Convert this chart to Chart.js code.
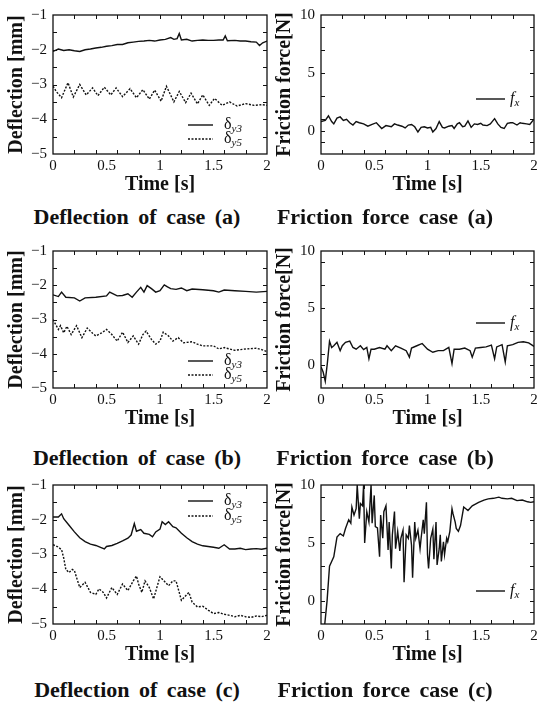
<!DOCTYPE html>
<html><head><meta charset="utf-8">
<script src="https://cdn.jsdelivr.net/npm/chart.js@4.4.1/dist/chart.umd.min.js"></script>
<style>
html,body{margin:0;padding:0;background:#fff}
body{width:538px;height:706px;position:relative;overflow:hidden}
canvas{position:absolute}
.cap{position:absolute;font:bold 22px "Liberation Serif",serif;line-height:22px;color:#111;white-space:nowrap;transform:translateX(-50%);word-spacing:4px}
</style></head><body>
<script>
// ---------- tick labels / tick marks ----------
const xTickLabels = [0, 0.5, 1, 1.5, 2];
const xTickMarks = [0.2, 0.4, 0.6, 0.8, 1.0, 1.2, 1.4, 1.6, 1.8];
const deflTickLabels = [-1, -2, -3, -4, -5];
const deflTickMarks = [-1.5, -2, -2.5, -3, -3.5, -4, -4.5];
const fricTickLabels = [0, 5, 10];
const fricTickMarks = [-1, 0, 1, 3, 5, 7, 9];

// ---------- case (a) ----------
const timeA3 = [0,0.05,0.1,0.15,0.2,0.25,0.3,0.35,0.4,0.45,0.5,0.55,0.6,0.65,0.7,0.75,0.8,0.85,0.9,0.95,1.0,1.05,1.1,1.13,1.16,1.18,1.2,1.25,1.3,1.35,1.4,1.45,1.5,1.55,1.59,1.61,1.63,1.7,1.75,1.8,1.85,1.9,1.93,1.96,2.0];
const deflA3 = [-2.05,-1.98,-2.02,-2.0,-2.03,-2.05,-2.0,-1.98,-1.95,-1.93,-1.9,-1.88,-1.85,-1.85,-1.8,-1.78,-1.76,-1.75,-1.73,-1.75,-1.72,-1.7,-1.65,-1.7,-1.68,-1.53,-1.72,-1.7,-1.75,-1.73,-1.72,-1.73,-1.73,-1.72,-1.72,-1.6,-1.74,-1.73,-1.75,-1.75,-1.77,-1.78,-1.88,-1.8,-1.75];
const timeA5 = [0,0.03,0.08,0.14,0.19,0.25,0.31,0.37,0.42,0.48,0.54,0.59,0.65,0.72,0.78,0.84,0.9,0.95,1.01,1.06,1.13,1.18,1.24,1.29,1.35,1.4,1.46,1.51,1.58,1.65,1.72,1.8,1.88,1.95,2.0];
const deflA5 = [-3.05,-3.2,-3.38,-2.95,-3.36,-3.0,-3.3,-3.1,-3.32,-3.08,-3.3,-3.1,-3.35,-3.12,-3.38,-3.15,-3.42,-3.16,-3.48,-3.05,-3.5,-3.2,-3.52,-3.25,-3.56,-3.3,-3.6,-3.4,-3.6,-3.5,-3.62,-3.55,-3.6,-3.58,-3.6];
const timeAf = [0,0.04,0.07,0.1,0.12,0.15,0.18,0.21,0.24,0.27,0.3,0.33,0.36,0.4,0.44,0.48,0.52,0.55,0.57,0.61,0.66,0.69,0.72,0.76,0.79,0.82,0.85,0.88,0.91,0.94,0.97,1.0,1.03,1.05,1.08,1.11,1.14,1.16,1.2,1.23,1.25,1.28,1.3,1.33,1.35,1.38,1.41,1.44,1.47,1.5,1.52,1.56,1.59,1.63,1.66,1.69,1.72,1.75,1.78,1.8,1.84,1.87,1.89,1.93,1.96,2.0];
const fricA = [0.8,0.9,1.3,0.8,0.6,1.1,1.2,0.9,1.0,0.7,0.5,0.8,0.7,0.6,0.4,0.55,0.7,0.4,0.2,0.45,0.35,0.6,0.5,0.4,0.25,0.5,0.55,0.35,-0.1,0.3,0.35,0.25,0.3,-0.1,0.2,0.8,0.3,0.25,0.4,0.45,0.2,0.6,0.7,0.35,0.4,0.85,0.3,0.6,0.55,0.65,0.5,0.45,0.6,1.05,0.6,0.3,0.2,0.65,0.7,0.7,0.5,0.7,0.65,0.6,0.55,1.0];

// ---------- case (b) ----------
const timeB3 = [0,0.05,0.08,0.12,0.2,0.25,0.3,0.4,0.5,0.53,0.6,0.65,0.7,0.74,0.78,0.82,0.85,0.88,0.92,0.96,1.0,1.04,1.07,1.1,1.15,1.2,1.25,1.3,1.4,1.5,1.55,1.6,1.7,1.8,1.9,2.0];
const deflB3 = [-2.28,-2.33,-2.2,-2.35,-2.37,-2.46,-2.37,-2.35,-2.31,-2.2,-2.31,-2.3,-2.25,-2.35,-2.2,-2.06,-2.2,-2.01,-2.1,-2.2,-2.16,-1.99,-2.05,-2.1,-2.12,-2.08,-2.16,-2.11,-2.13,-2.16,-2.2,-2.14,-2.16,-2.18,-2.2,-2.18];
const timeB5 = [0,0.05,0.07,0.1,0.13,0.17,0.22,0.27,0.32,0.37,0.4,0.45,0.5,0.55,0.6,0.65,0.7,0.75,0.8,0.84,0.87,0.92,0.96,1.0,1.03,1.08,1.12,1.17,1.22,1.3,1.35,1.4,1.5,1.55,1.6,1.7,1.8,1.9,1.95,2.0];
const deflB5 = [-3.0,-3.29,-3.18,-3.39,-3.2,-3.44,-3.18,-3.53,-3.25,-3.4,-3.48,-3.4,-3.29,-3.44,-3.63,-3.37,-3.67,-3.48,-3.72,-3.44,-3.34,-3.58,-3.72,-3.63,-3.37,-3.48,-3.63,-3.53,-3.68,-3.65,-3.72,-3.77,-3.77,-3.86,-3.82,-3.9,-3.86,-3.84,-3.88,-3.94];
const timeBf = [0,0.02,0.04,0.06,0.08,0.1,0.12,0.15,0.18,0.2,0.23,0.27,0.3,0.33,0.37,0.4,0.43,0.45,0.47,0.5,0.55,0.6,0.62,0.66,0.7,0.75,0.8,0.83,0.85,0.9,0.95,1.0,1.05,1.1,1.15,1.2,1.23,1.25,1.3,1.35,1.4,1.42,1.45,1.5,1.55,1.6,1.63,1.65,1.7,1.73,1.75,1.8,1.85,1.9,1.95,2.0];
const fricB = [-0.15,-0.6,-1.4,0.2,2.1,1.55,1.7,2.0,1.27,1.7,2.0,2.1,1.55,1.4,1.7,1.36,1.55,0.56,1.4,1.4,1.55,1.4,1.7,1.27,1.7,1.5,1.27,0.7,1.5,1.7,1.9,1.4,1.13,1.27,1.27,1.55,0.13,1.4,1.4,1.5,1.27,0.7,1.5,1.55,1.6,1.75,0.56,1.6,1.8,0.28,1.7,1.8,2.0,2.05,1.95,1.64];

// ---------- case (c) ----------
const timeC3 = [0,0.05,0.08,0.1,0.15,0.2,0.25,0.3,0.35,0.4,0.45,0.48,0.5,0.55,0.6,0.65,0.7,0.73,0.76,0.78,0.82,0.85,0.9,0.93,0.96,1.0,1.02,1.05,1.08,1.12,1.15,1.2,1.25,1.3,1.35,1.4,1.45,1.5,1.55,1.6,1.65,1.7,1.75,1.8,1.85,1.9,1.95,2.0];
const deflC3 = [-1.92,-1.92,-1.83,-1.97,-2.16,-2.35,-2.52,-2.63,-2.7,-2.74,-2.8,-2.84,-2.77,-2.74,-2.68,-2.61,-2.53,-2.44,-2.11,-2.33,-2.28,-2.39,-2.42,-2.49,-2.35,-2.27,-2.06,-2.14,-2.06,-2.2,-2.23,-2.39,-2.52,-2.63,-2.7,-2.75,-2.77,-2.79,-2.82,-2.72,-2.84,-2.84,-2.82,-2.86,-2.84,-2.83,-2.85,-2.82];
const timeC5 = [0,0.04,0.08,0.1,0.12,0.15,0.18,0.2,0.22,0.25,0.3,0.35,0.4,0.43,0.47,0.5,0.55,0.6,0.65,0.7,0.75,0.78,0.8,0.83,0.86,0.9,0.94,0.98,1.0,1.05,1.08,1.12,1.15,1.2,1.23,1.27,1.3,1.35,1.4,1.45,1.5,1.55,1.6,1.65,1.7,1.75,1.8,1.85,1.9,1.95,2.0];
const deflC5 = [-2.72,-2.77,-2.86,-3.1,-3.43,-3.52,-3.43,-3.46,-3.66,-3.95,-3.8,-4.09,-4.15,-3.99,-4.09,-4.25,-3.95,-4.15,-3.85,-4.04,-3.76,-3.62,-3.85,-4.09,-3.76,-3.95,-4.28,-3.85,-3.64,-3.8,-3.9,-3.76,-3.76,-4.32,-4.22,-4.09,-4.37,-4.51,-4.49,-4.6,-4.7,-4.67,-4.72,-4.75,-4.79,-4.75,-4.79,-4.81,-4.77,-4.79,-4.75];
const timeCf = [0.03,0.057,0.08,0.1,0.12,0.15,0.18,0.21,0.23,0.26,0.28,0.29,0.31,0.33,0.34,0.36,0.37,0.39,0.4,0.41,0.43,0.45,0.47,0.48,0.5,0.51,0.53,0.55,0.56,0.58,0.59,0.61,0.63,0.64,0.66,0.67,0.69,0.7,0.72,0.74,0.75,0.77,0.78,0.8,0.82,0.83,0.85,0.86,0.88,0.89,0.91,0.93,0.94,0.96,0.97,0.99,1.0,1.01,1.03,1.05,1.06,1.08,1.09,1.11,1.12,1.13,1.15,1.16,1.18,1.19,1.21,1.23,1.24,1.26,1.27,1.29,1.31,1.34,1.36,1.38,1.42,1.45,1.48,1.53,1.57,1.62,1.67,1.7,1.75,1.79,1.84,1.89,1.94,1.97,2.0];
const fricC = [-2.5,0,3.0,3.4,3.8,5.5,5.8,5.6,6.25,7.0,6.7,8.1,7.4,7.95,10,7.1,8.4,8.2,10,5.0,7.7,6.8,10,6.7,9.1,6.4,6.3,3.8,7.4,5.4,7.7,8.2,4.4,6.8,2.8,5.7,7.7,4.5,6.0,4.3,5.4,6.1,1.6,5.7,5.4,6.5,4.8,2.0,6.8,5.4,6.1,4.5,5.4,7.0,5.8,8.5,4.0,2.8,5.4,6.2,3.6,6.8,3.1,4.5,5.7,3.4,5.1,4.0,5.4,5.1,6.0,7.95,7.5,6.8,6.25,6.0,6.5,8.1,7.95,7.8,8.2,8.35,8.5,8.7,8.8,8.85,8.95,8.85,8.8,8.85,8.65,8.7,8.55,8.5,8.55];

const captionsLeft = ['Deflection of case (a)', 'Deflection of case (b)', 'Deflection of case (c)'];
const captionsRight = ['Friction force case (a)', 'Friction force case (b)', 'Friction force case (c)'];

// ---------- drawing ----------
const INK = '#111';
const SERIF = '"Liberation Serif", "Times New Roman", serif';
const pts = (t, v) => t.map((x, i) => ({x, y: v[i]}));
const fmt = v => (v < 0 ? '\u2212' + Math.abs(v) : String(v));

const framePlugin = {
  id: 'frame',
  afterDatasetsDraw(chart, args, opts) {
    const {ctx, chartArea: a, scales: {x, y}} = chart;
    ctx.save();
    ctx.strokeStyle = INK;
    ctx.lineWidth = 1.3;
    ctx.strokeRect(a.left, a.top, a.right - a.left, a.bottom - a.top);
    ctx.lineWidth = 1;
    ctx.beginPath();
    const L = 4;
    opts.xMarks.forEach(v => {
      const p = Math.round(x.getPixelForValue(v)) + 0.5;
      ctx.moveTo(p, a.bottom); ctx.lineTo(p, a.bottom - L);
      ctx.moveTo(p, a.top); ctx.lineTo(p, a.top + L);
    });
    opts.yMarks.forEach(v => {
      const p = Math.round(y.getPixelForValue(v)) + 0.5;
      ctx.moveTo(a.left, p); ctx.lineTo(a.left + L, p);
      ctx.moveTo(a.right, p); ctx.lineTo(a.right - L, p);
    });
    ctx.stroke();
    ctx.restore();
  }
};

const keyPlugin = {
  id: 'key',
  afterDatasetsDraw(chart, args, opts) {
    const {ctx, chartArea: a} = chart;
    ctx.save();
    chart.data.datasets.forEach((ds, i) => {
      const yy = a.top + opts.rows[i];
      ctx.strokeStyle = INK;
      ctx.lineWidth = 1.4;
      ctx.setLineDash(ds.borderDash || []);
      ctx.beginPath();
      ctx.moveTo(a.left + opts.x0, yy);
      ctx.lineTo(a.left + opts.x1, yy);
      ctx.stroke();
      ctx.setLineDash([]);
      const main = ds.label.charAt(0), sub = ds.label.slice(1);
      ctx.fillStyle = INK;
      ctx.textBaseline = 'middle';
      ctx.textAlign = 'left';
      ctx.font = (opts.italicMain ? 'italic ' : '') + '16px ' + SERIF;
      const tx = a.left + opts.tx;
      ctx.fillText(main, tx, yy);
      const w = ctx.measureText(main).width;
      ctx.font = 'italic 11px ' + SERIF;
      ctx.fillText(sub, tx + w, yy + 4);
    });
    ctx.restore();
  }
};

const PAD_L = 53, PAD_T = 12, PAD_R = 8, PAD_B = 50;

function makePanel(rect, cfg) {
  const c = document.createElement('canvas');
  const w = rect.r - rect.l + PAD_L + PAD_R;
  const h = rect.b - rect.t + PAD_T + PAD_B;
  c.width = w; c.height = h;
  c.style.width = w + 'px'; c.style.height = h + 'px';
  c.style.left = (rect.l - PAD_L) + 'px';
  c.style.top = (rect.t - PAD_T) + 'px';
  document.body.appendChild(c);
  new Chart(c, {
    type: 'line',
    data: {datasets: cfg.datasets.map(d => ({
      label: d.label, data: d.data, borderColor: INK, borderWidth: 1.4,
      borderDash: d.dash, pointRadius: 0, tension: 0, fill: false
    }))},
    options: {
      responsive: false, animation: false, devicePixelRatio: 1,
      layout: {padding: {left: 0, top: PAD_T, right: PAD_R, bottom: 0}},
      plugins: {
        legend: {display: false}, tooltip: {enabled: false},
        frame: {xMarks: xTickMarks, yMarks: cfg.yMarks},
        key: cfg.key
      },
      scales: {
        x: {
          type: 'linear', min: 0, max: 2,
          afterBuildTicks: s => { s.ticks = xTickLabels.map(v => ({value: v})); },
          afterFit: s => { s.height = PAD_B; },
          grid: {display: false, drawTicks: false}, border: {display: false},
          ticks: {autoSkip: false, maxRotation: 0, minRotation: 0, padding: 3, color: INK,
                  font: {family: SERIF, size: 15}, callback: v => fmt(v)},
          title: {display: true, text: 'Time [s]', color: INK,
                  font: {family: SERIF, size: 20, weight: 'bold', lineHeight: 1},
                  padding: {top: 0, bottom: 9}}
        },
        y: {
          type: 'linear', min: cfg.yMin, max: cfg.yMax,
          afterBuildTicks: s => { s.ticks = cfg.yLabels.map(v => ({value: v})); },
          afterFit: s => { s.width = PAD_L; },
          grid: {display: false, drawTicks: false}, border: {display: false},
          ticks: {autoSkip: false, padding: 6, color: INK,
                  font: {family: SERIF, size: 15}, callback: v => fmt(v)},
          title: {display: true, text: cfg.yTitle, color: INK,
                  font: {family: SERIF, size: 20, weight: 'bold', lineHeight: 1},
                  padding: {top: 7, bottom: 0}}
        }
      }
    },
    plugins: [framePlugin, keyPlugin]
  });
}

const LEFT = {l: 53, r: 267}, RIGHT = {l: 321, r: 534};
const ROWS = [{t: 12, b: 154}, {t: 248, b: 388}, {t: 482, b: 624}];
const CAP_TOPS = [206, 447, 679];

const deflSets = [
  [pts(timeA3, deflA3), pts(timeA5, deflA5)],
  [pts(timeB3, deflB3), pts(timeB5, deflB5)],
  [pts(timeC3, deflC3), pts(timeC5, deflC5)]
];
const fricSets = [pts(timeAf, fricA), pts(timeBf, fricB), pts(timeCf, fricC)];
const deflKeyRows = [[110, 124], [110, 124], [16, 31]];
const fricKeyRows = [84, 72, 106];

ROWS.forEach((row, i) => {
  makePanel({l: LEFT.l, r: LEFT.r, t: row.t, b: row.b}, {
    yMin: -5, yMax: -1, yLabels: deflTickLabels, yMarks: deflTickMarks,
    yTitle: 'Deflection [mm]',
    datasets: [
      {label: '\u03b4y3', data: deflSets[i][0], dash: []},
      {label: '\u03b4y5', data: deflSets[i][1], dash: [2, 1.5]}
    ],
    key: {x0: 135, x1: 160, tx: 171, rows: deflKeyRows[i], italicMain: false}
  });
  makePanel({l: RIGHT.l, r: RIGHT.r, t: row.t, b: row.b}, {
    yMin: -2, yMax: 10, yLabels: fricTickLabels, yMarks: fricTickMarks,
    yTitle: 'Friction force[N]',
    datasets: [{label: 'fx', data: fricSets[i], dash: []}],
    key: {x0: 155, x1: 184, tx: 189, rows: [fricKeyRows[i]], italicMain: true}
  });
  const c1 = document.createElement('div');
  c1.className = 'cap'; c1.textContent = captionsLeft[i];
  c1.style.left = '137px'; c1.style.top = CAP_TOPS[i] + 'px';
  document.body.appendChild(c1);
  const c2 = document.createElement('div');
  c2.className = 'cap'; c2.textContent = captionsRight[i];
  c2.style.left = '385px'; c2.style.top = CAP_TOPS[i] + 'px';
  document.body.appendChild(c2);
});
</script>
</body></html>
